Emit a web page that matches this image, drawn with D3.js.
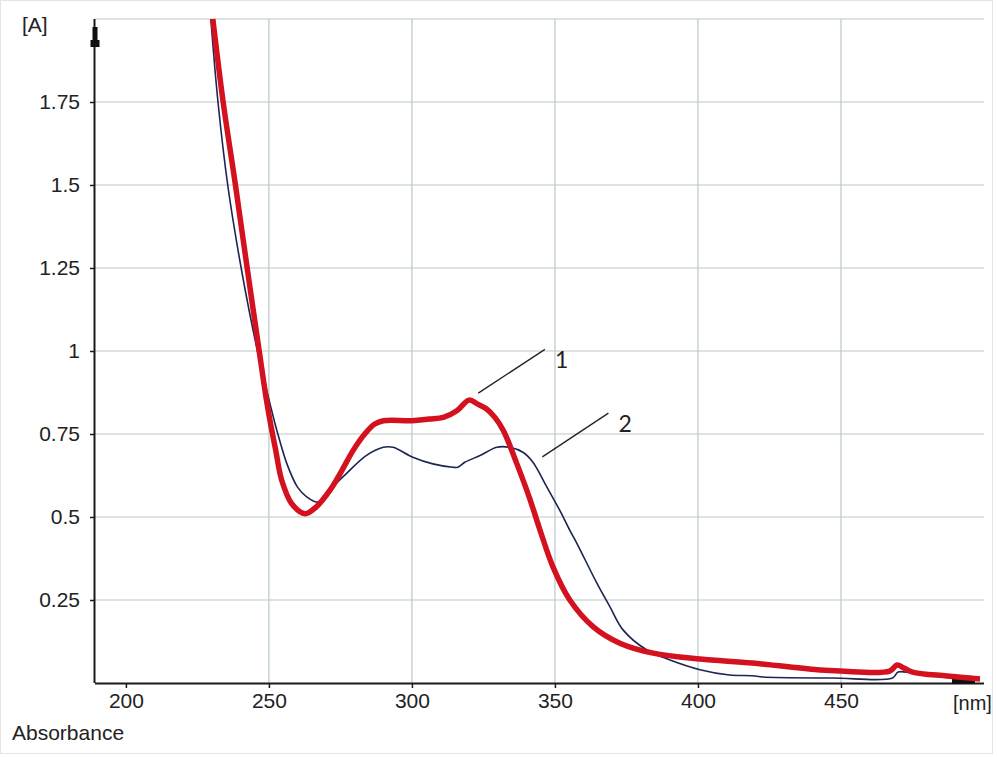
<!DOCTYPE html>
<html>
<head>
<meta charset="utf-8">
<script src="https://cdn.jsdelivr.net/npm/d3@7"></script>
<style>
  body { margin: 0; background: #fff; }
  svg { display: block; }
</style>
</head>
<body>
<div id="chart"></div>
<script>
// Wavelength (nm) and absorbance
const nm1 = [230.4, 234.0, 238.3, 242.4, 246.6, 249.0, 250.6, 252.4, 254.5, 258.0, 262.6, 266.5, 271.3, 275.5, 279.4, 283.5, 287.0, 290.0, 300.0, 306.0, 311.0, 315.7, 320.0, 323.0, 326.0, 329.0, 332.0, 336.7, 341.0, 344.8, 349.3, 355.2, 363.3, 372.7, 384.3, 400.7, 419.0, 442.7, 449.7, 467.0, 469.6, 472.0, 475.0, 487.0, 498.6];
const abs1 = [2.00, 1.75, 1.50, 1.25, 1.00, 0.86, 0.78, 0.70, 0.61, 0.54, 0.51, 0.53, 0.58, 0.64, 0.70, 0.75, 0.78, 0.79, 0.79, 0.795, 0.80, 0.82, 0.852, 0.84, 0.826, 0.80, 0.76, 0.66, 0.56, 0.46, 0.35, 0.25, 0.17, 0.12, 0.09, 0.072, 0.06, 0.039, 0.036, 0.036, 0.054, 0.045, 0.033, 0.021, 0.012];

const nm2 = [229.7, 232.2, 235.6, 240.3, 246.0, 250.7, 252.8, 256.3, 260.0, 263.3, 266.8, 270.0, 272.4, 277.0, 284.0, 290.0, 293.4, 300.3, 307.3, 314.3, 316.0, 318.5, 323.8, 329.7, 334.0, 338.8, 342.3, 347.2, 351.7, 355.2, 357.7, 364.7, 369.2, 373.8, 382.0, 390.0, 400.7, 411.0, 419.0, 422.7, 447.0, 468.0, 470.0, 475.0, 487.0, 498.6];
const abs2 = [2.00, 1.75, 1.50, 1.25, 1.00, 0.83, 0.76, 0.66, 0.59, 0.56, 0.545, 0.56, 0.59, 0.63, 0.685, 0.71, 0.71, 0.68, 0.66, 0.65, 0.65, 0.665, 0.685, 0.71, 0.71, 0.695, 0.665, 0.59, 0.52, 0.46, 0.42, 0.30, 0.23, 0.16, 0.10, 0.07, 0.04, 0.024, 0.022, 0.018, 0.015, 0.015, 0.033, 0.03, 0.02, 0.012];

const xTicks = [200, 250, 300, 350, 400, 450];
const xGrid = [250, 300, 350, 400, 450];
const yTicks = [0.25, 0.5, 0.75, 1, 1.25, 1.5, 1.75];
const yGrid = [0.25, 0.5, 0.75, 1, 1.25, 1.5, 1.75, 2];

// curve labels: [label, leader start nm, leader start A, leader end nm, leader end A]
const curveLabels = [
    ["1", 323.2, 0.873, 346.5, 1.005],
    ["2", 345.6, 0.681, 368.7, 0.813]
];

const width = 997, height = 757;
const plotLeft = 95, plotRight = 984, plotTop = 19, plotBottom = 683;

const svg = d3.select("#chart").append("svg")
    .attr("width", width)
    .attr("height", height)
    .style("font-family", "'Liberation Sans', Arial, sans-serif");

svg.append("rect")
    .attr("x", 0.5).attr("y", 0.5)
    .attr("width", width - 5).attr("height", height - 4)
    .attr("fill", "#fff")
    .attr("stroke", "#e4e4e4");

const x = d3.scaleLinear().domain([189.2, 500]).range([plotLeft, plotRight]);
const y = d3.scaleLinear().domain([0, 2]).range([plotBottom, plotTop]);

// grid
svg.append("g").selectAll("line").data(xGrid).join("line")
    .attr("x1", d => x(d)).attr("x2", d => x(d))
    .attr("y1", plotTop).attr("y2", plotBottom)
    .attr("stroke", "#b9c9c5").attr("stroke-width", 1.2);

svg.append("g").selectAll("line").data(yGrid).join("line")
    .attr("x1", plotLeft).attr("x2", plotRight)
    .attr("y1", d => y(d)).attr("y2", d => y(d))
    .attr("stroke", "#b9c9c5").attr("stroke-width", 1.2);

// axes
const xAxis = d3.axisBottom(x).tickValues(xTicks).tickSize(5).tickPadding(5)
    .tickFormat(d3.format("d"));
const gx = svg.append("g").attr("transform", `translate(0,${plotBottom})`).call(xAxis);
gx.select(".domain").attr("d", `M${plotLeft},0.5H${plotRight}`).attr("stroke", "#1a1a1a").attr("stroke-width", 2);
gx.selectAll(".tick line").attr("stroke", "#1a1a1a").attr("stroke-width", 1.5);
gx.selectAll(".tick text").attr("font-size", 21).attr("fill", "#222").attr("font-family", "'Liberation Sans', Arial, sans-serif");

const yAxis = d3.axisLeft(y).tickValues(yTicks).tickSize(5).tickPadding(10)
    .tickFormat(d => String(d));
const gy = svg.append("g").attr("transform", `translate(${plotLeft},0)`).call(yAxis);
gy.select(".domain").attr("d", `M-0.5,${plotTop}V${plotBottom}`).attr("stroke", "#1a1a1a").attr("stroke-width", 2);
gy.selectAll(".tick line").attr("stroke", "#1a1a1a").attr("stroke-width", 1.5);
gy.selectAll(".tick text").attr("font-size", 21).attr("fill", "#222").attr("font-family", "'Liberation Sans', Arial, sans-serif");

// axis end markers
svg.append("rect").attr("x", plotLeft - 2.5).attr("y", 27).attr("width", 5).attr("height", 20).attr("fill", "#111");
svg.append("rect").attr("x", plotLeft - 4.5).attr("y", 40).attr("width", 9).attr("height", 7).attr("fill", "#111");
svg.append("rect").attr("x", 952).attr("y", plotBottom - 4).attr("width", 23).attr("height", 5).attr("fill", "#111");

// unit labels
svg.append("text").attr("x", 22).attr("y", 32).attr("font-size", 21).attr("fill", "#222").text("[A]");
svg.append("text").attr("x", 953).attr("y", 710).attr("font-size", 20).attr("fill", "#222").text("[nm]");
svg.append("text").attr("x", 12).attr("y", 740).attr("font-size", 21).attr("fill", "#222").text("Absorbance");

// curves
svg.append("clipPath").attr("id", "plot-clip")
    .append("rect").attr("x", plotLeft).attr("y", plotTop - 2)
    .attr("width", plotRight - plotLeft).attr("height", plotBottom - plotTop + 2);

const line = d3.line()
    .x(d => x(d[0]))
    .y(d => y(d[1]))
    .curve(d3.curveCatmullRom.alpha(0.5));

const plot = svg.append("g").attr("clip-path", "url(#plot-clip)");

plot.append("path")
    .datum(d3.zip(nm2, abs2))
    .attr("d", line)
    .attr("fill", "none")
    .attr("stroke", "#1c2552")
    .attr("stroke-width", 1.6);

plot.append("path")
    .datum(d3.zip(nm1, abs1))
    .attr("d", line)
    .attr("fill", "none")
    .attr("stroke", "#d3111f")
    .attr("stroke-width", 5.5)
    .attr("stroke-linejoin", "round");

// leader lines and numbers
const ann = svg.append("g");
ann.selectAll("line").data(curveLabels).join("line")
    .attr("x1", d => x(d[1])).attr("y1", d => y(d[2]))
    .attr("x2", d => x(d[3])).attr("y2", d => y(d[4]))
    .attr("stroke", "#222").attr("stroke-width", 1.3);
ann.selectAll("text").data(curveLabels).join("text")
    .attr("x", d => x(d[3]) + 10)
    .attr("y", d => y(d[4]) + 19)
    .attr("font-family", "Lato, 'Open Sans', sans-serif")
    .attr("font-size", 23)
    .attr("fill", "#222")
    .text(d => d[0]);
</script>
</body>
</html>
